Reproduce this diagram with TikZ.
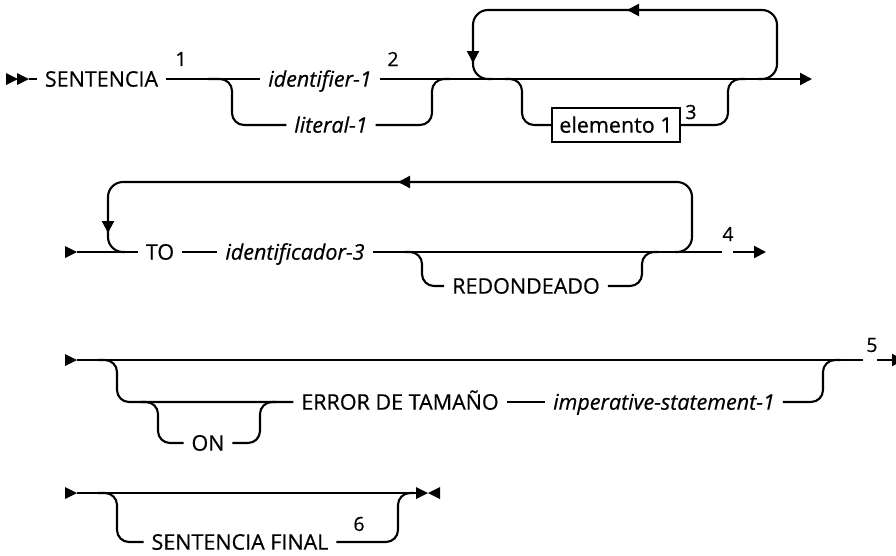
\documentclass[tikz,border=0pt]{standalone}
\usepackage{fontspec}
\setmainfont{Open Sans}[UprightFeatures={FakeBold=0.5},ItalicFeatures={FakeBold=0.5}]
\usetikzlibrary{arrows.meta}
\tikzset{
  rail/.style={line width=2.1pt, rounded corners=12pt},
  loopr/.style={line width=2.1pt, rounded corners=15pt},
  lbl/.style={font=\fontsize{21.5}{25}\selectfont, inner sep=0pt, outer xsep=8pt, text height=15.3pt, text depth=0pt},
  var/.style={lbl, font=\fontsize{21.5}{25}\selectfont\itshape},
  num/.style={font=\fontsize{19.5}{22}\selectfont, inner sep=0pt},
  elbox/.style={lbl, draw, line width=1.8pt, inner xsep=7.5pt, inner ysep=9.3pt, outer xsep=0pt},
  arr/.style={line width=2.1pt, -{Triangle[length=12pt,width=12pt]}},
  trir/.pic={\fill (-12,-6) -- (0,0) -- (-12,6) -- cycle;},
  tril/.pic={\fill (12,-6) -- (0,0) -- (12,6) -- cycle;}
}
\begin{document}
\begin{tikzpicture}[x=1pt,y=-1pt]
\clip (0,0) rectangle (896,555);
\fill[white] (0,0) rectangle (896,555);

% ---------- Row 1 ----------
\pic at (18,79) {trir};
\pic at (29,79) {trir};
\node[lbl] (sent) at (101.5,79) {SENTENCIA};
\draw[rail] (29,79) -- (sent.west);
\node[var] (id1) at (320,79) {identifier-1};
\draw[rail] (sent.east) -- (id1.west);
\node[num] (n1) at (181,59) {1};
\node[var] (lit1) at (331,125) {literal-1};
\draw[rail] (208,79) -- (232,79) -- (232,125) -- (lit1.west);
\draw[rail] (lit1.east) -- (432,125) -- (432,79) -- (450,79);
\draw[arr] (id1.east) -- (812,79);
\node[num] (n2) at (393,59) {2};
% repetition loop
\draw[loopr] (492,79) -- (473,79) -- (473,10) -- (777,10) -- (777,79) -- (758,79);
\draw[arr] (473,45) -- (473,63);
\draw[arr] (645,10) -- (627,10);
% optional elemento
\node[elbox] (el) at (616,125) {elemento 1};
\draw[rail] (505,79) -- (522,79) -- (522,125) -- (el.west);
\draw[rail] (el.east) -- (728,125) -- (728,79) -- (745,79);
\node[num] (n3) at (691,112) {3};

% ---------- Row 2 ----------
\pic at (77,252) {trir};
\node[lbl] (to) at (160,252) {TO};
\draw[rail] (77,252) -- (to.west);
\node[var] (id3) at (295,252) {identificador-3};
\draw[rail] (to.east) -- (id3.west);
\draw[rail] (id3.east) -- (722,252);
\node[num] (n4) at (728,234) {4};
\draw[arr] (733,252) -- (766,252);
\draw[loopr] (125,252) -- (108,252) -- (108,182) -- (692,182) -- (692,252) -- (675,252);
\draw[arr] (108,215) -- (108,233);
\draw[arr] (416,182) -- (398,182);
\node[lbl] (red) at (526,286) {REDONDEADO};
\draw[rail] (405,252) -- (422,252) -- (422,286) -- (red.west);
\draw[rail] (red.east) -- (642,286) -- (642,252) -- (658,252);

% ---------- Row 3 ----------
\pic at (77,360) {trir};
\draw[rail] (77,360) -- (863,360);
\node[num] (n5) at (872,345) {5};
\draw[arr] (877,360) -- (904,360);
\node[lbl] (err) at (400,402) {ERROR DE TAMAÑO};
\draw[rail] (98,360) -- (117,360) -- (117,402) -- (err.west);
\node[lbl] (on) at (208,443) {ON};
\draw[rail] (141,402) -- (158,402) -- (158,443) -- (on.west);
\draw[rail] (on.east) -- (260,443) -- (260,402) -- (276,402);
\node[var] (imp) at (664,402) {imperative-statement-1};
\draw[rail] (err.east) -- (imp.west);
\draw[rail] (imp.east) -- (823,402) -- (823,360) -- (840,360);

% ---------- Row 4 ----------
\pic at (77,493) {trir};
\draw[rail] (77,493) -- (418,493);
\pic at (428,493) {trir};
\pic at (428,493) {tril};
\node[lbl] (sf) at (240,542) {SENTENCIA FINAL};
\draw[rail] (98,493) -- (117,493) -- (117,542) -- (sf.west);
\node[num] (n6) at (359,524) {6};
\draw[rail] (sf.east) -- (398,542) -- (398,493) -- (414,493);
\end{tikzpicture}
\end{document}
